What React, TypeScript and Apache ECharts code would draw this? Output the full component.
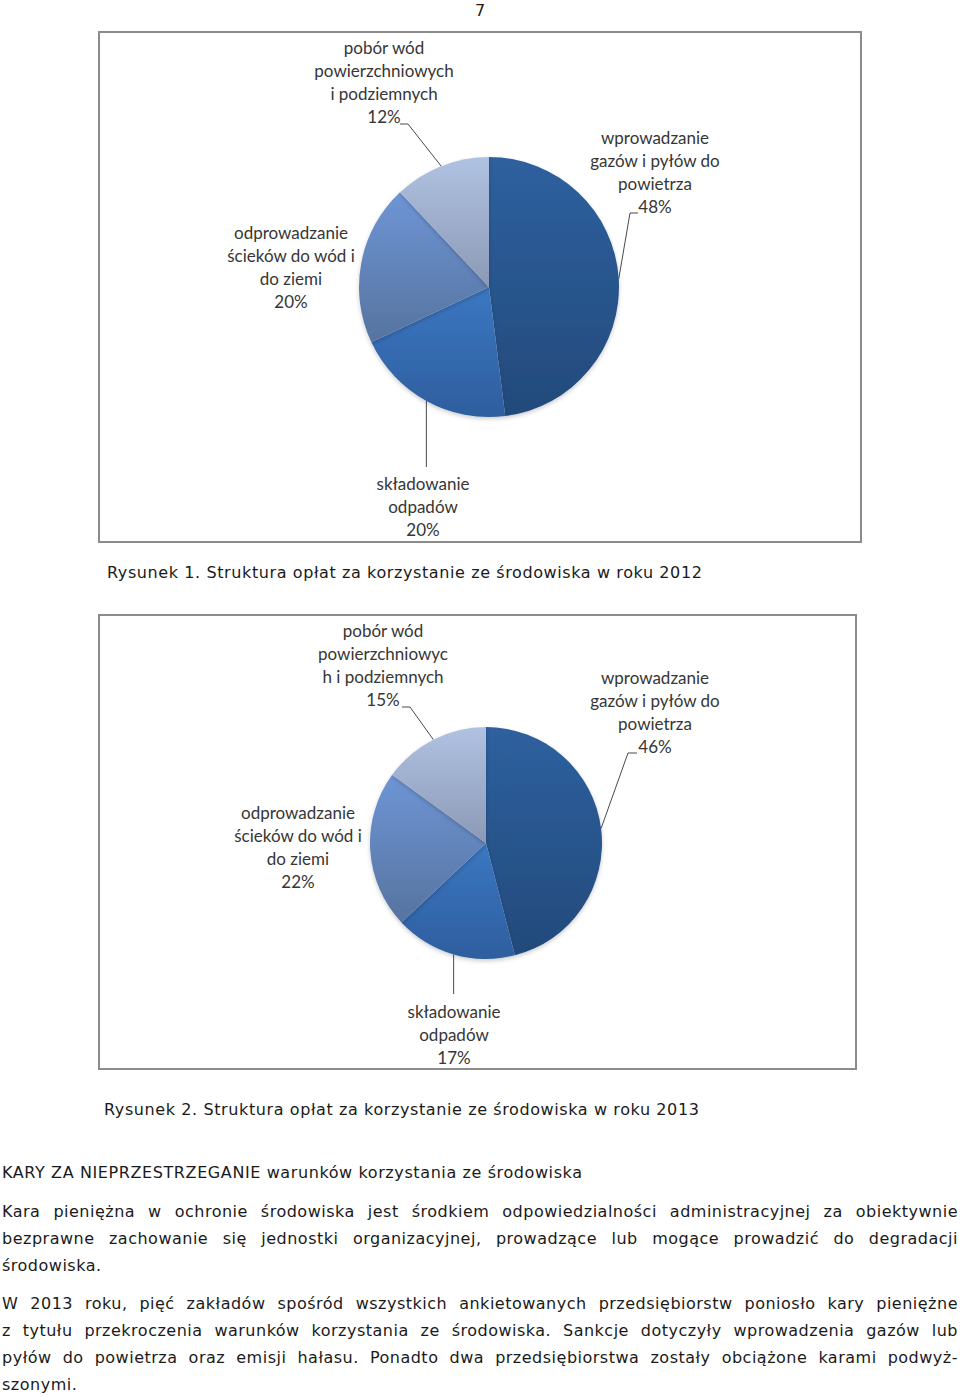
import React, { useEffect, useRef } from 'react';
import * as echarts from 'echarts';

// ---------- data ----------
const names2012 = [
  'wprowadzanie\ngazów i pyłów do\npowietrza',
  'składowanie\nodpadów',
  'odprowadzanie\nścieków do wód i\ndo ziemi',
  'pobór wód\npowierzchniowych\ni podziemnych',
];
const values2012 = [48, 20, 20, 12];

const names2013 = [
  'wprowadzanie\ngazów i pyłów do\npowietrza',
  'składowanie\nodpadów',
  'odprowadzanie\nścieków do wód i\ndo ziemi',
  'pobór wód\npowierzchniowyc\nh i podziemnych',
];
const values2013 = [46, 17, 22, 15];

const pageNumber = '7';
const caption1 = 'Rysunek 1. Struktura opłat za korzystanie ze środowiska w roku 2012';
const caption2 = 'Rysunek 2. Struktura opłat za korzystanie ze środowiska w roku 2013';
const heading = 'KARY ZA NIEPRZESTRZEGANIE warunków korzystania ze środowiska';
const paragraph1 = [
  'Kara pieniężna w ochronie środowiska jest środkiem odpowiedzialności administracyjnej za obiektywnie',
  'bezprawne zachowanie się jednostki organizacyjnej, prowadzące lub mogące prowadzić do degradacji',
  'środowiska.',
];
const paragraph2 = [
  'W 2013 roku, pięć zakładów spośród wszystkich ankietowanych przedsiębiorstw poniosło kary pieniężne',
  'z tytułu przekroczenia warunków korzystania ze środowiska. Sankcje dotyczyły wprowadzenia gazów lub',
  'pyłów do powietrza oraz emisji hałasu. Ponadto dwa przedsiębiorstwa zostały obciążone karami podwyż-',
  'szonymi.',
];

// ---------- styles / layout ----------
const sliceTop = ['#2e609f', '#3b77c2', '#6e95d5', '#b0c2e2'];
const sliceBottom = ['#234a7b', '#2e5e9e', '#56739f', '#8b99b5'];

type Spot = { x: number; y: number; elbow?: number[]; end?: number[]; dropTo?: number };
type PieLayout = {
  left: number; top: number; width: number; height: number;
  cx: number; cy: number; r: number; spots: Spot[];
};

const layout2012: PieLayout = {
  left: 100, top: 33, width: 760, height: 508, cx: 489, cy: 287, r: 130,
  spots: [
    { x: 655, y: 138, elbow: [630, 213], end: [638, 213] },
    { x: 423, y: 484, dropTo: 467 },
    { x: 291, y: 233 },
    { x: 384, y: 48, elbow: [408, 124], end: [400, 124] },
  ],
};
const layout2013: PieLayout = {
  left: 100, top: 616, width: 755, height: 452, cx: 486, cy: 843, r: 116,
  spots: [
    { x: 655, y: 678, elbow: [628, 753], end: [637, 753] },
    { x: 454, y: 1012, dropTo: 994 },
    { x: 298, y: 813 },
    { x: 383, y: 631, elbow: [410, 707], end: [402, 707] },
  ],
};

const LABEL_LH = 22.7;

function PieChart({ names, values, lay }: { names: string[]; values: number[]; lay: PieLayout }) {
  const ref = useRef<HTMLDivElement>(null);
  useEffect(() => {
    if (!ref.current) return;
    const chart = echarts.init(ref.current, undefined, { renderer: 'svg' });
    const ox = lay.left;
    const oy = lay.top;
    chart.setOption({
      animation: false,
      series: [
        {
          type: 'pie',
          silent: true,
          startAngle: 90,
          clockwise: true,
          center: [lay.cx - ox, lay.cy - oy],
          radius: lay.r,
          avoidLabelOverlap: false,
          minShowLabelAngle: 0,
          itemStyle: { shadowBlur: 4, shadowOffsetY: 2, shadowColor: 'rgba(0,0,0,0.2)' },
          label: {
            show: true,
            position: 'outside',
            formatter: (p: any) => `${p.name}\n${p.value}%`,
            fontFamily: 'Lato',
            fontSize: 17,
            lineHeight: LABEL_LH,
            color: '#363636',
            align: 'center',
          },
          labelLine: {
            show: true,
            length: 15,
            length2: 10,
            smooth: false,
            lineStyle: { color: '#4a4a4a', width: 1 },
          },
          labelLayout: (params: any) => {
            const s = lay.spots[params.dataIndex];
            const out: any = {
              x: s.x - ox,
              y: s.y - oy - LABEL_LH / 2,
              align: 'center',
              verticalAlign: 'top',
            };
            const pts = params.labelLinePoints;
            if (pts && pts.length) {
              const e = pts[0];
              if (s.elbow && s.end) {
                out.labelLinePoints = [e, [s.elbow[0] - ox, s.elbow[1] - oy], [s.end[0] - ox, s.end[1] - oy]];
              } else if (s.dropTo != null) {
                out.labelLinePoints = [e, [e[0], s.dropTo - oy]];
              }
            }
            return out;
          },
          data: values.map((v, i) => ({
            value: v,
            name: names[i],
            itemStyle: {
              color: {
                type: 'linear', x: 0, y: 0, x2: 0, y2: 1,
                colorStops: [
                  { offset: 0, color: sliceTop[i] },
                  { offset: 1, color: sliceBottom[i] },
                ],
              },
            },
            labelLine: { show: !!(lay.spots[i].elbow || lay.spots[i].dropTo != null) },
          })),
        },
      ],
    });
    return () => chart.dispose();
  }, []);
  return (
    <>
      <div
        style={{
          position: 'absolute', left: lay.left - 2, top: lay.top - 2,
          width: lay.width + 4, height: lay.height + 4,
          border: '2px solid #8c8c8c', boxSizing: 'border-box',
        }}
      />
      <div
        ref={ref}
        style={{ position: 'absolute', left: lay.left, top: lay.top, width: lay.width, height: lay.height }}
      />
    </>
  );
}

const FONT = '"DejaVu Sans", sans-serif';

function Line({ text, left, cy, justify, size = 16, spacing = 0.5 }: {
  text: string; left: number; cy: number; justify?: boolean; size?: number; spacing?: number;
}) {
  return (
    <div
      style={{
        position: 'absolute', left, top: cy - 13.5, width: 958 - left,
        height: 27, lineHeight: '27px', fontSize: size, fontFamily: FONT,
        color: '#1a1a1a', whiteSpace: 'nowrap',
        letterSpacing: spacing,
        textAlign: justify ? 'justify' : 'left',
        textAlignLast: justify ? 'justify' : 'left',
      } as React.CSSProperties}
    >
      {text}
    </div>
  );
}

export default function App() {
  const p1y = [1211, 1238, 1265];
  const p2y = [1303, 1330, 1357, 1384];
  return (
    <div style={{ position: 'absolute', left: 0, top: 0, width: 960, height: 1397, background: '#ffffff', overflow: 'hidden' }}>
      <div style={{ position: 'absolute', left: 470, top: -3, width: 20, textAlign: 'center', lineHeight: '27px', fontSize: 16, fontFamily: FONT, color: '#1a1a1a' }}>
        {pageNumber}
      </div>
      <PieChart names={names2012} values={values2012} lay={layout2012} />
      <Line text={caption1} left={107} cy={572} spacing={0.6} />
      <PieChart names={names2013} values={values2013} lay={layout2013} />
      <Line text={caption2} left={104} cy={1109} spacing={0.6} />
      <Line text={heading} left={2} cy={1172} spacing={0.6} />
      {paragraph1.map((t, i) => (
        <Line key={'a' + i} text={t} left={2} cy={p1y[i]} justify={i < paragraph1.length - 1} />
      ))}
      {paragraph2.map((t, i) => (
        <Line key={'b' + i} text={t} left={2} cy={p2y[i]} justify={i < paragraph2.length - 1} />
      ))}
    </div>
  );
}
